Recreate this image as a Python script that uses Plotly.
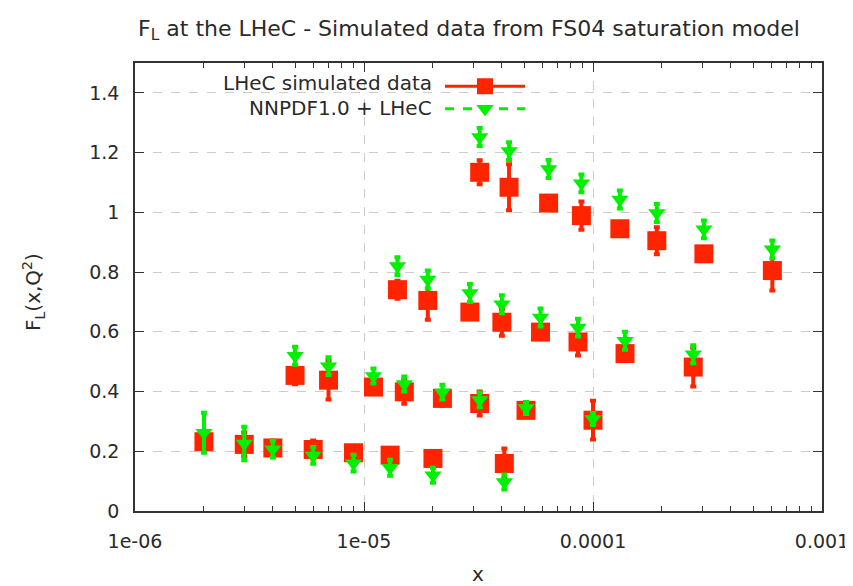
import plotly.graph_objects as go

# ---- data ----
# four Q^2 bins; x values, LHeC simulated F_L, its error, NNPDF1.0+LHeC F_L, its error
x_bin1 = [2e-6, 3e-6, 4e-6, 6e-6, 9e-6, 1.3e-5, 2e-5, 4.1e-5]
lhec_bin1 = [0.232, 0.223, 0.211, 0.206, 0.195, 0.187, 0.176, 0.159]
lhec_err1 = [0.02, 0.04, 0.025, 0.03, 0.02, 0.02, 0.02, 0.05]
nnpdf_bin1 = [0.262, 0.226, 0.207, 0.186, 0.16, 0.145, 0.12, 0.097]
nnpdf_err1 = [0.067, 0.056, 0.028, 0.028, 0.028, 0.027, 0.025, 0.025]

x_bin2 = [5e-6, 7e-6, 1.1e-5, 1.5e-5, 2.2e-5, 3.2e-5, 5.1e-5, 1.0e-4]
lhec_bin2 = [0.454, 0.438, 0.415, 0.399, 0.377, 0.36, 0.337, 0.304]
lhec_err2 = [0.03, 0.065, 0.02, 0.04, 0.025, 0.04, 0.02, 0.065]
nnpdf_bin2 = [0.52, 0.485, 0.452, 0.425, 0.398, 0.372, 0.345, 0.308]
nnpdf_err2 = [0.03, 0.03, 0.025, 0.025, 0.025, 0.025, 0.02, 0.02]

x_bin3 = [1.4e-5, 1.9e-5, 2.9e-5, 4.0e-5, 5.9e-5, 8.6e-5, 1.38e-4, 2.74e-4]
lhec_bin3 = [0.741, 0.705, 0.666, 0.632, 0.599, 0.566, 0.527, 0.482]
lhec_err3 = [0.03, 0.065, 0.02, 0.045, 0.02, 0.045, 0.02, 0.065]
nnpdf_bin3 = [0.82, 0.775, 0.73, 0.692, 0.648, 0.614, 0.57, 0.525]
nnpdf_err3 = [0.03, 0.03, 0.03, 0.03, 0.03, 0.03, 0.03, 0.03]

x_bin4 = [3.2e-5, 4.3e-5, 6.4e-5, 8.9e-5, 1.31e-4, 1.9e-4, 3.05e-4, 6.07e-4]
lhec_bin4 = [1.134, 1.084, 1.031, 0.989, 0.945, 0.905, 0.861, 0.805]
lhec_err4 = [0.04, 0.077, 0.02, 0.047, 0.02, 0.045, 0.02, 0.067]
nnpdf_bin4 = [1.252, 1.205, 1.145, 1.097, 1.043, 0.998, 0.943, 0.876]
nnpdf_err4 = [0.03, 0.03, 0.03, 0.03, 0.03, 0.03, 0.03, 0.03]

x_tickvals = [1e-6, 1e-5, 1e-4, 1e-3]
x_ticktext = ["1e-06", "1e-05", "0.0001", "0.001"]

series_names = ["LHeC simulated data", "NNPDF1.0 + LHeC"]

RED = "#ff2400"
GREEN = "#00f000"
TXT = "#2a2a2a"
FONT = "DejaVu Sans"

x_all = x_bin1 + x_bin2 + x_bin3 + x_bin4
lhec_all = lhec_bin1 + lhec_bin2 + lhec_bin3 + lhec_bin4
lhec_err_all = lhec_err1 + lhec_err2 + lhec_err3 + lhec_err4
nnpdf_all = nnpdf_bin1 + nnpdf_bin2 + nnpdf_bin3 + nnpdf_bin4
nnpdf_err_all = nnpdf_err1 + nnpdf_err2 + nnpdf_err3 + nnpdf_err4

fig = go.Figure()

fig.add_trace(go.Scatter(
    x=x_all, y=lhec_all, mode="markers", showlegend=False, name=series_names[0],
    marker=dict(symbol="square", size=19, color=RED),
    error_y=dict(type="data", array=lhec_err_all, color=RED, thickness=4, width=3),
))
fig.add_trace(go.Scatter(
    x=x_all, y=nnpdf_all, mode="markers", showlegend=False, name=series_names[1],
    marker=dict(symbol="triangle-down", size=15, color=GREEN),
    error_y=dict(type="data", array=nnpdf_err_all, color=GREEN, thickness=4, width=3),
))

# legend keys (labels are drawn to their left, gnuplot style)
fig.add_trace(go.Scatter(
    x=[None], y=[None], mode="lines+markers", name=" ",
    line=dict(color=RED, width=3), marker=dict(symbol="square", size=19, color=RED),
))
fig.add_trace(go.Scatter(
    x=[None], y=[None], mode="lines+markers", name=" ",
    line=dict(color=GREEN, width=3, dash="dash"),
    marker=dict(symbol="triangle-down", size=15, color=GREEN),
))

minor_vals = [m * 10.0 ** e for e in range(-6, -3) for m in range(2, 10)]

# the page body has an 8px margin; the figure is sized so that the plot box
# lands at page pixels x 135..822, y 63..511
OFF = 8
W, H = 853 - OFF, 586 - OFF
PL, PT = 135 - OFF, 63 - OFF
PR = W - (822 - OFF)
PB = H - (511 - OFF)
pw, ph = W - PL - PR, H - PT - PB

def px_to_paper_x(px):
    return (px - OFF - PL) / pw

def px_to_paper_y(py):
    return (H - PB - (py - OFF)) / ph

annotations = []
for name, row_y in zip(series_names, [83, 108]):
    annotations.append(dict(
        text=name, xref="paper", yref="paper",
        x=px_to_paper_x(434), y=px_to_paper_y(row_y),
        xanchor="right", yanchor="middle", showarrow=False,
        font=dict(family=FONT, size=20, color=TXT),
    ))
annotations.append(dict(
    text="F<sub>L</sub>(x,Q<sup>2</sup>)", xref="paper", yref="paper",
    x=px_to_paper_x(33), y=px_to_paper_y(292), textangle=-90,
    xanchor="center", yanchor="middle", showarrow=False,
    font=dict(family=FONT, size=20, color=TXT),
))
annotations.append(dict(
    text="x", xref="paper", yref="paper",
    x=px_to_paper_x(478), y=px_to_paper_y(574),
    xanchor="center", yanchor="middle", showarrow=False,
    font=dict(family=FONT, size=20, color=TXT),
))

fig.update_layout(
    width=W, height=H,
    margin=dict(l=PL, r=PR, t=PT, b=PB),
    paper_bgcolor="white", plot_bgcolor="white",
    font=dict(family=FONT, size=20, color=TXT),
    title=dict(
        text="F<sub>L</sub> at the LHeC - Simulated data from FS04 saturation model",
        x=px_to_paper_x(469), xref="paper", xanchor="center",
        y=1 - (28 - OFF) / H, yref="container", yanchor="middle",
        font=dict(family=FONT, size=22, color=TXT),
    ),
    legend=dict(
        x=px_to_paper_x(440), y=px_to_paper_y(70), xanchor="left", yanchor="top",
        bgcolor="rgba(0,0,0,0)", itemwidth=80, tracegroupgap=0,
        font=dict(family=FONT, size=15, color=TXT),
    ),
    annotations=annotations,
)

fig.update_xaxes(
    type="log", range=[-6, -3], automargin=False,
    tickvals=x_tickvals, ticktext=x_ticktext,
    ticks="inside", ticklen=9, tickcolor="#333333",
    showline=True, linecolor="#333333", linewidth=1.5, mirror="allticks",
    showgrid=True, gridcolor="#cccccc", griddash="dash", gridwidth=1,
    zeroline=False, ticklabelstandoff=12,
    tickfont=dict(family=FONT, size=19, color=TXT),
    minor=dict(tickvals=minor_vals, ticks="inside", ticklen=5, tickcolor="#333333", showgrid=False),
)
fig.update_yaxes(
    range=[0, 1.5], dtick=0.2, tick0=0, automargin=False,
    ticks="inside", ticklen=9, tickcolor="#333333",
    showline=True, linecolor="#333333", linewidth=1.5, mirror="allticks",
    showgrid=True, gridcolor="#cccccc", griddash="dash", gridwidth=1,
    zeroline=False, ticklabelstandoff=10,
    tickfont=dict(family=FONT, size=19, color=TXT),
)

fig.write_html("out.html")
